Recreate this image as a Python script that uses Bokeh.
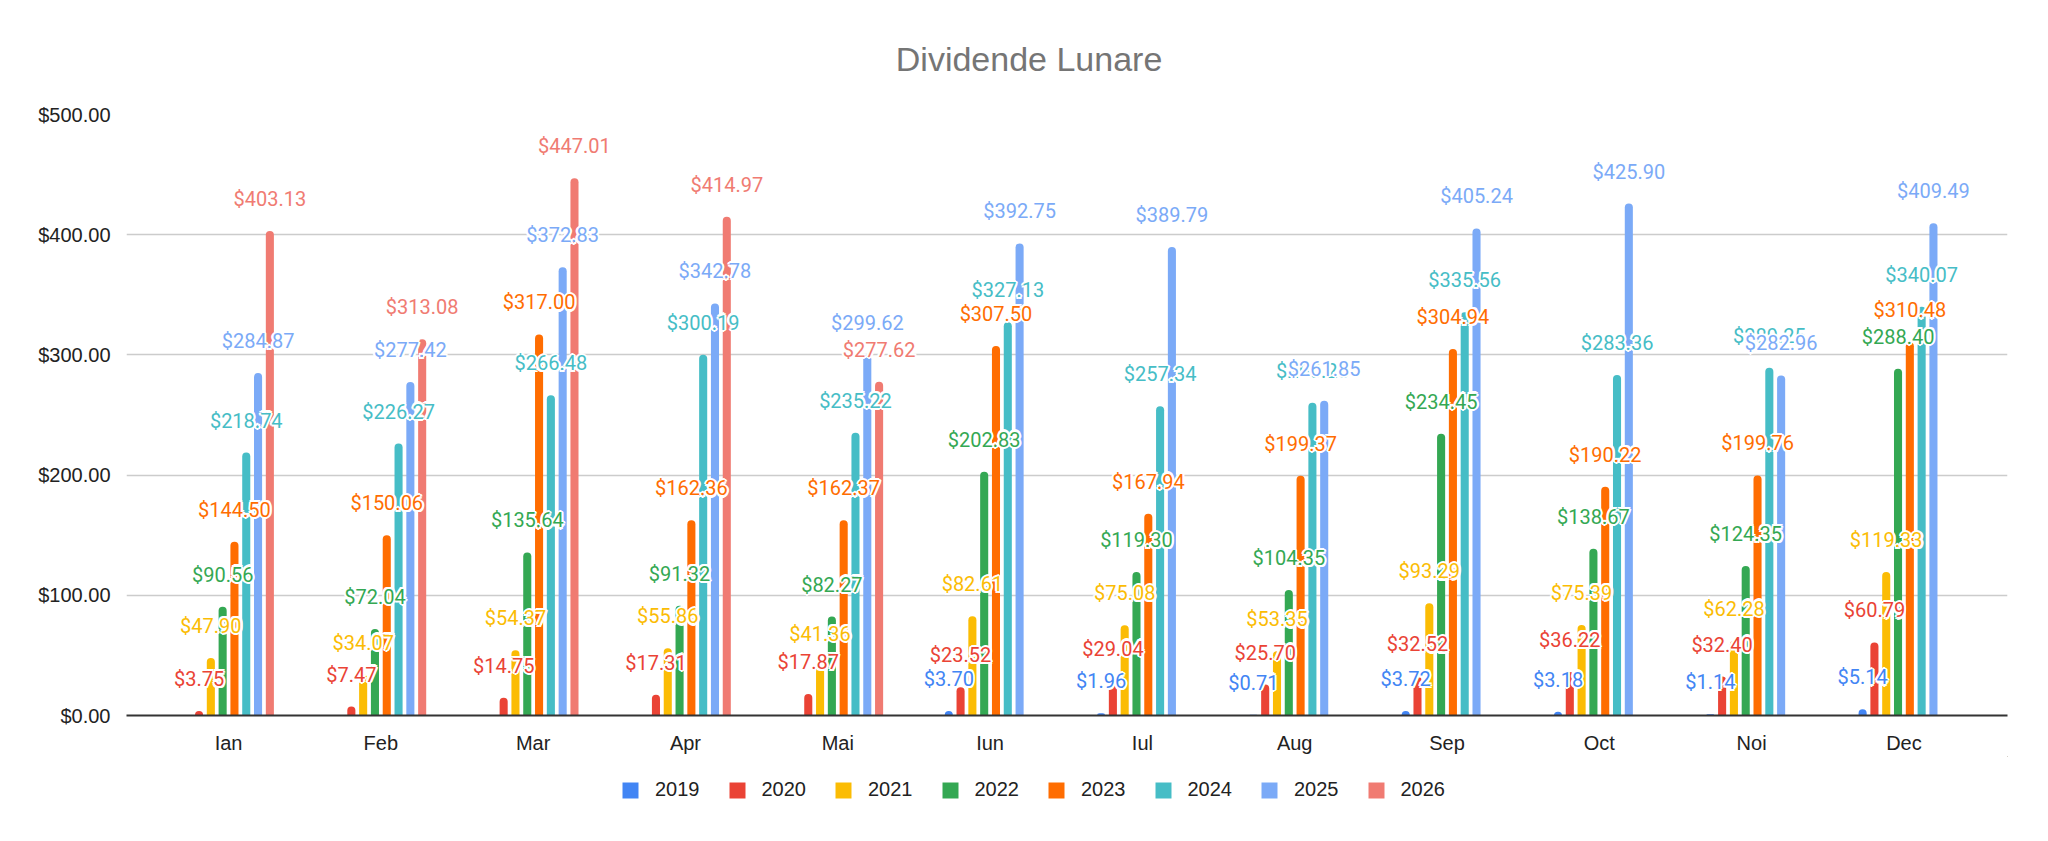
import math
from bokeh.plotting import figure
from bokeh.layouts import column
from bokeh.models import (ColumnDataSource, Range1d, FixedTicker, NumeralTickFormatter,
                          Legend, LegendItem)
from bokeh.core.properties import value
from bokeh.embed import file_html
from bokeh.resources import INLINE

# ---------------- data ----------------
months = ["Ian", "Feb", "Mar", "Apr", "Mai", "Iun", "Iul", "Aug", "Sep", "Oct", "Noi", "Dec"]
years = ["2019", "2020", "2021", "2022", "2023", "2024", "2025", "2026"]
colors = ["#4285F4", "#EA4335", "#FBBC04", "#34A853", "#FF6D01", "#46BDC6", "#7BAAF7", "#F07B72"]

v2019 = [None, None, None, None, None, 3.70, 1.96, 0.71, 3.72, 3.18, 1.14, 5.14]
v2020 = [3.75, 7.47, 14.75, 17.31, 17.87, 23.52, 29.04, 25.70, 32.52, 36.22, 32.40, 60.79]
v2021 = [47.90, 34.07, 54.37, 55.86, 41.36, 82.61, 75.08, 53.35, 93.29, 75.39, 62.28, 119.33]
v2022 = [90.56, 72.04, 135.64, 91.32, 82.27, 202.83, 119.30, 104.35, 234.45, 138.67, 124.35, 288.40]
v2023 = [144.50, 150.06, 317.00, 162.36, 162.37, 307.50, 167.94, 199.37, 304.94, 190.22, 199.76, 310.48]
v2024 = [218.74, 226.27, 266.48, 300.19, 235.22, 327.13, 257.34, 260.25, 335.56, 283.36, 289.25, 340.07]
v2025 = [284.87, 277.42, 372.83, 342.78, 299.62, 392.75, 389.79, 261.85, 405.24, 425.90, 282.96, 409.49]
v2026 = [403.13, 313.08, 447.01, 414.97, 277.62, None, None, None, None, None, None, None]
series = [v2019, v2020, v2021, v2022, v2023, v2024, v2025, v2026]

y_ticks = [0, 100, 200, 300, 400, 500]
title_text = "Dividende Lunare"

W = 2032
H_TITLE = 90
H_MAIN = 666
H_LEG = 66

# ---------------- title strip ----------------
tf = figure(width=W, height=H_TITLE, output_backend="svg", toolbar_location=None,
            x_axis_type=None, y_axis_type=None, x_range=Range1d(0, W), y_range=Range1d(0, H_TITLE),
            min_border_left=0, min_border_right=0, min_border_top=0, min_border_bottom=0)
tf.outline_line_color = None
tf.xgrid.grid_line_color = None
tf.ygrid.grid_line_color = None
tf.text(x=[975], y=[H_TITLE - 58], text=[title_text], text_color="#757575",
        text_font=value("Liberation Sans"), text_font_size="34px",
        text_align="center", text_baseline="middle")

# ---------------- main figure ----------------
p = figure(width=W, height=H_MAIN, output_backend="svg", toolbar_location=None,
           x_range=Range1d(-0.67, 11.68), y_range=Range1d(0, 500),
           min_border_left=126, min_border_right=25, min_border_top=114 - H_TITLE,
           min_border_bottom=36)
p.outline_line_color = None
p.background_fill_color = "white"
p.border_fill_color = "white"

p.xgrid.grid_line_color = None
p.ygrid.grid_line_color = "#cccccc"
p.ygrid.grid_line_width = 1.3
p.ygrid.ticker = FixedTicker(ticks=y_ticks)

xa = p.xaxis[0]
xa.ticker = FixedTicker(ticks=list(range(len(months))))
xa.major_label_overrides = {i: m for i, m in enumerate(months)}
xa.major_tick_line_color = None
xa.minor_tick_line_color = None
xa.axis_line_color = "#333333"
xa.axis_line_width = 2
xa.major_label_text_font = "Liberation Sans"
xa.major_label_text_font_size = "20px"
xa.major_label_text_color = "#222222"
xa.major_label_standoff = 10

ya = p.yaxis[0]
ya.ticker = FixedTicker(ticks=y_ticks)
ya.formatter = NumeralTickFormatter(format="$0,0.00")
ya.major_tick_line_color = None
ya.minor_tick_line_color = None
ya.axis_line_color = None
ya.major_label_text_font = "Liberation Sans"
ya.major_label_text_font_size = "20px"
ya.major_label_text_color = "#222222"
ya.major_label_standoff = 10

pitch = 0.0775
bar_w = 0.053
n = len(years)

label_sources = []
for si, (yr, col, vals) in enumerate(zip(years, colors, series)):
    xs, ys, txt = [], [], []
    for mi, v in enumerate(vals):
        if v is None:
            continue
        xs.append(mi + (si - (n - 1) / 2) * pitch)
        ys.append(v)
        txt.append("${:,.2f}".format(v))
    src = ColumnDataSource(dict(x=xs, top=ys, label=txt))
    p.vbar(x="x", top="top", bottom=0, width=bar_w, source=src,
           fill_color=col, line_color=None, border_radius=(4, 4, 0, 0))
    label_sources.append((src, col))

halo = [(math.cos(a * math.pi / 4) * 2.2, math.sin(a * math.pi / 4) * 2.2) for a in range(8)]
for src, col in label_sources:
    for dx, dy in halo:
        p.text(x="x", y="top", text="label", source=src, text_color="white",
               text_font=value("Roboto"), text_font_size="20px",
               text_align="center", text_baseline="middle",
               x_offset=dx, y_offset=-32 + dy)
    p.text(x="x", y="top", text="label", source=src, text_color=col,
           text_font=value("Roboto"), text_font_size="20px",
           text_align="center", text_baseline="middle", y_offset=-32)

# ---------------- legend strip ----------------
lg = figure(width=W, height=H_LEG, output_backend="svg", toolbar_location=None,
            x_axis_type=None, y_axis_type=None, x_range=Range1d(0, 1), y_range=Range1d(0, 1),
            min_border_left=0, min_border_right=0, min_border_top=0, min_border_bottom=0)
lg.outline_line_color = None
lg.xgrid.grid_line_color = None
lg.ygrid.grid_line_color = None
items = []
for yr, col in zip(years, colors):
    # swatch renderer kept outside the visible range; only its legend glyph shows
    r = lg.vbar(x=[5.0], top=[6.0], bottom=[5.5], width=0.1, fill_color=col, line_color=None)
    items.append(LegendItem(label=yr, renderers=[r]))
legend = Legend(items=items, orientation="horizontal", location=(494, 21),
                glyph_width=20, glyph_height=20, label_standoff=15, spacing=27,
                label_text_font="Liberation Sans", label_text_font_size="20px",
                label_text_color="#222222", border_line_color=None,
                background_fill_alpha=0, padding=0, margin=0)
lg.add_layout(legend, "center")

layout = column(tf, p, lg, spacing=0)
open("out.html", "w").write(file_html(layout, INLINE))
